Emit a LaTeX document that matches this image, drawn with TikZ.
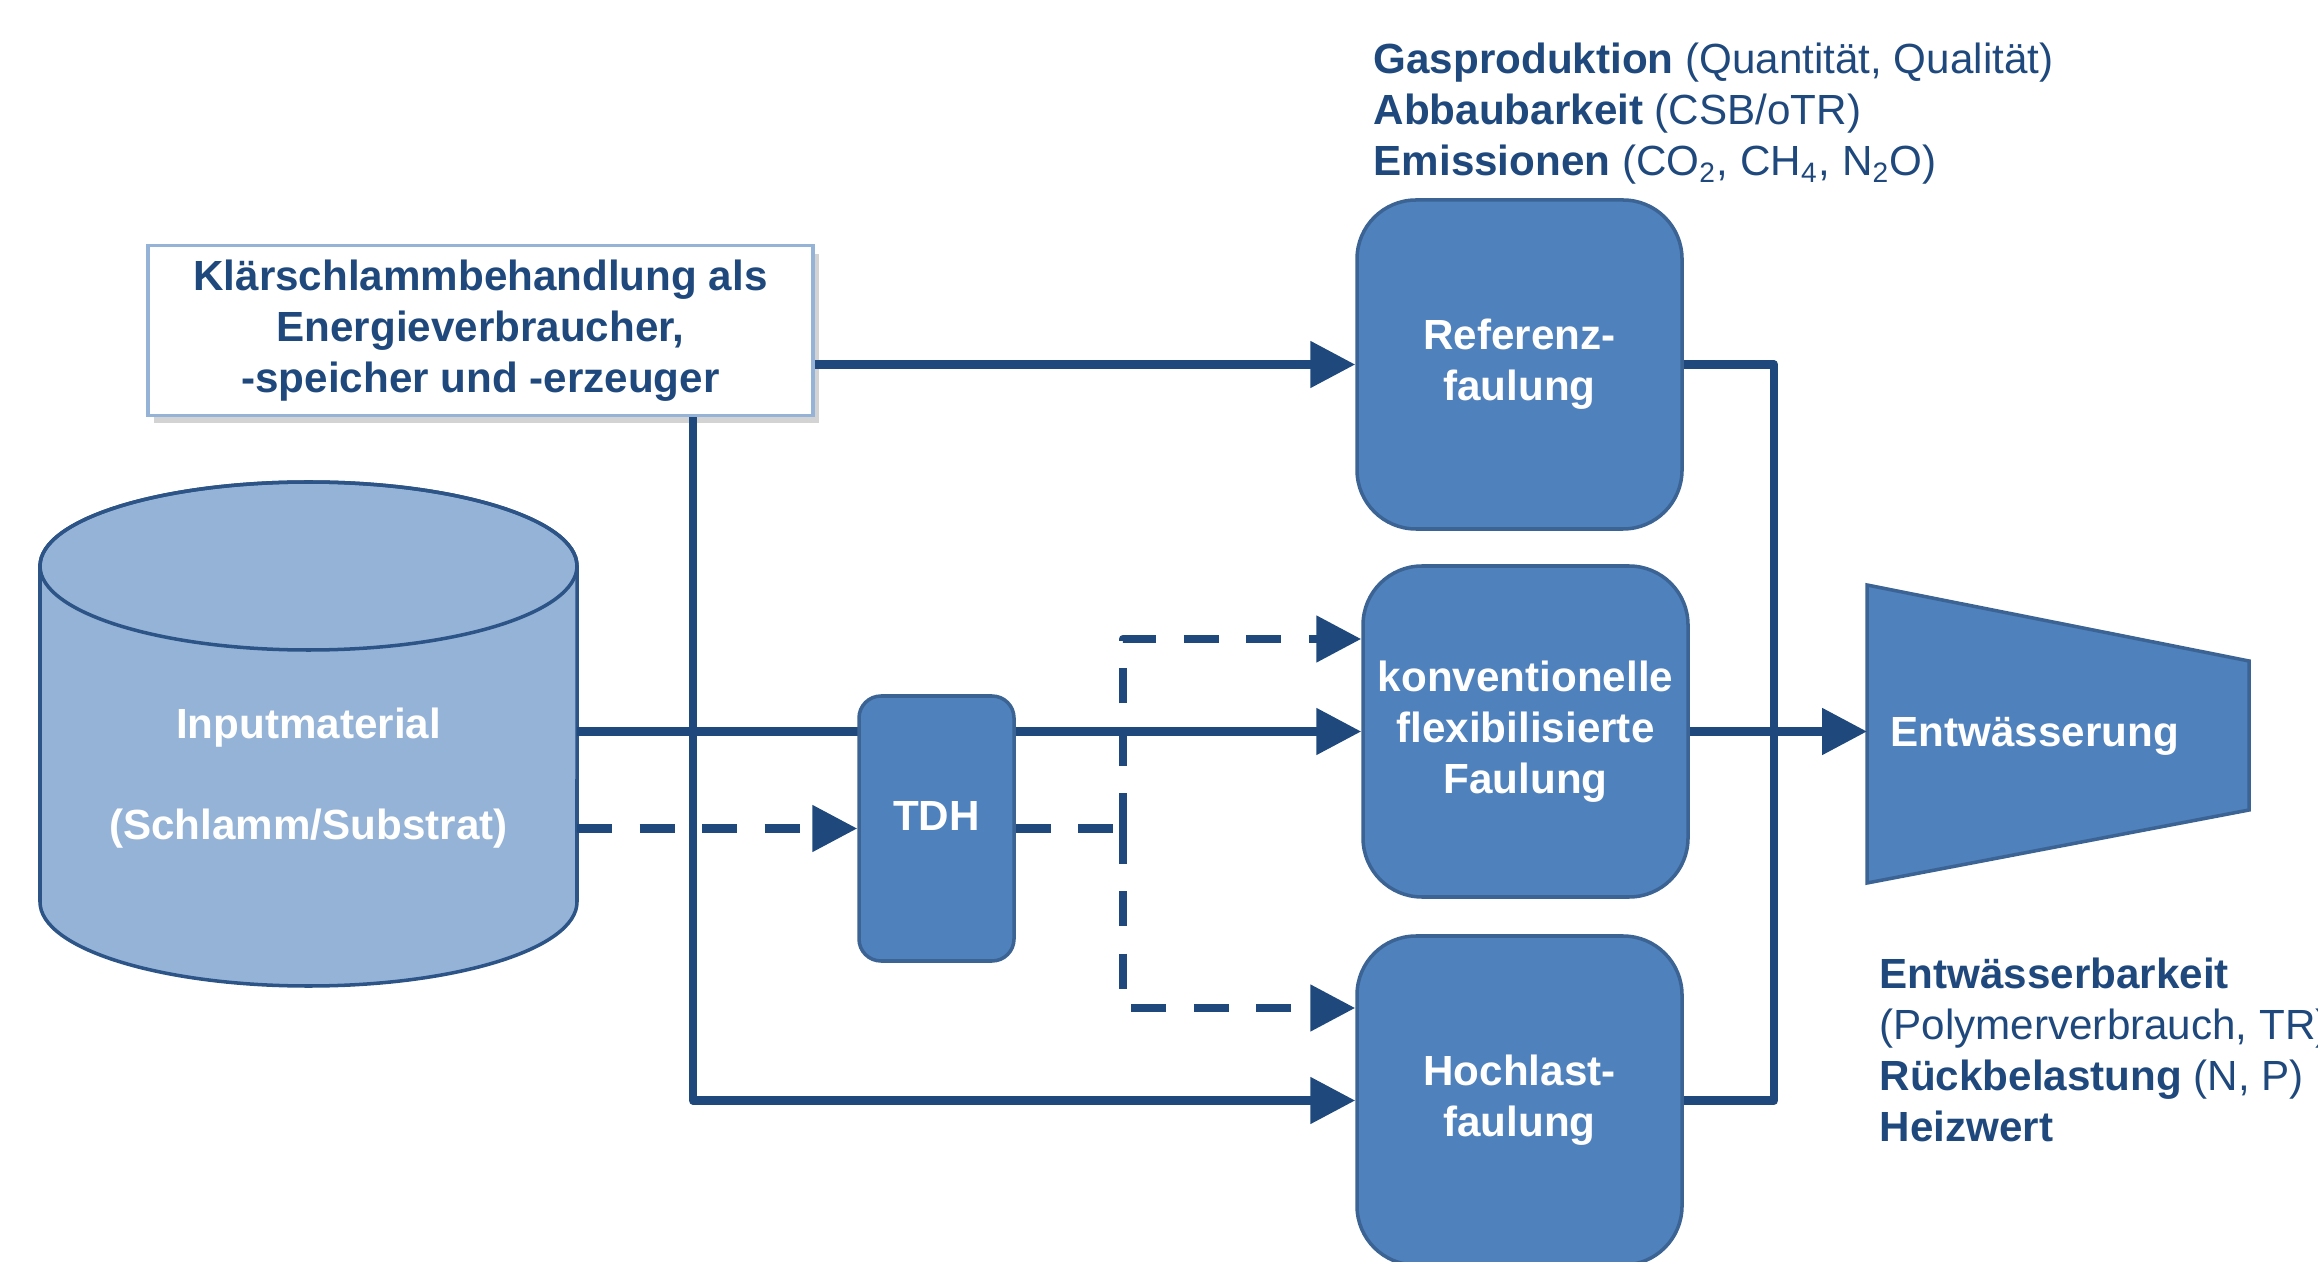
\documentclass[12pt,tikz,border=0pt]{standalone}
\usepackage{fontspec}
\setmainfont{Liberation Sans}
\usetikzlibrary{arrows.meta,shadows}
\definecolor{boxblau}{HTML}{4F81BD}
\definecolor{randblau}{HTML}{3B6494}
\definecolor{linienblau}{HTML}{1F497D}
\definecolor{hellblau}{HTML}{95B3D7}
\definecolor{zylrand}{HTML}{2C5487}
\tikzstyle{faul} = [rectangle, rounded corners=0.59cm, draw=randblau, fill=boxblau, line width=1pt, text=white, font=\bfseries, align=center, minimum width=3.25cm, minimum height=3.29cm]
\tikzstyle{fluss} = [draw=linienblau, line width=2.4pt, line join=round]
\tikzstyle{pfeil} = [fluss, -{Triangle[length=12.8pt,width=12.8pt]}]
\tikzstyle{strich} = [dash pattern=on 10pt off 7.8pt]
\tikzstyle{info} = [anchor=west, align=left, text=linienblau, inner sep=0pt]

\begin{document}
\begin{tikzpicture}
    \useasboundingbox (0,0) rectangle (23.18,12.61);
    % Knoten
    \node[draw=hellblau, fill=white, line width=1pt,
        drop shadow={opacity=0.35, shadow xshift=0.6mm, shadow yshift=-0.8mm},
        text=linienblau, font=\bfseries, align=center,
        minimum width=6.65cm, minimum height=1.67cm] (titel) at (4.805,9.305)
        {Klärschlammbehandlung als\\Energieverbraucher,\\-speicher und -erzeuger};

    % Zylinder
    \draw[fill=hellblau, draw=zylrand, line width=1pt] (0.40,6.95) -- (0.40,3.59)
        arc[start angle=180, end angle=360, x radius=2.685, y radius=0.84]
        -- (5.77,6.95)
        arc[start angle=0, end angle=180, x radius=2.685, y radius=0.84] -- cycle;
    \draw[draw=zylrand, line width=1pt] (3.085,6.95) ellipse [x radius=2.685, y radius=0.84];
    \coordinate (zylost) at (5.77,5.265);
    \node[text=white, font=\bfseries, align=center] (input) at (3.085,4.83)
        {Inputmaterial\\[14.4pt](Schlamm/Substrat)};

    \node[faul] (ref) at (15.195,8.965) {Referenz-\\faulung};
    \node[faul, minimum height=3.31cm] (konv) at (15.255,5.295) {konventionelle\\flexibilisierte\\Faulung};
    \node[faul] (hoch) at (15.195,1.605) {Hochlast-\\faulung};

    % Entwaesserung
    \coordinate (e1) at (18.67,6.76);
    \coordinate (e2) at (22.49,6.00);
    \coordinate (e3) at (22.49,4.51);
    \coordinate (e4) at (18.67,3.78);
    \draw[fill=boxblau, draw=randblau, line width=1pt] (e1) -- (e2) -- (e3) -- (e4) -- cycle;
    \node[anchor=west, text=white, font=\bfseries] (entw) at (18.76,5.25) {Entwässerung};
    \coordinate (entwlinks) at (18.67,5.295);

    % Verbindungen
    \coordinate (teil) at (6.93,1.58);
    \coordinate (sammel) at (17.74,5.295);
    \coordinate (gabel) at (11.23,4.325);
    \draw[pfeil] (ref.west -| titel.east) -- (ref.west);
    \draw[pfeil] (titel.south -| teil) |- (hoch.west);
    \draw[pfeil] (konv.west -| zylost) -- (konv.west);
    \draw[fluss] (ref.east) -| (sammel) |- (hoch.east);
    \draw[pfeil] (konv.east) -- (entwlinks);

    \node[rectangle, rounded corners=0.22cm, draw=randblau, fill=boxblau, line width=1pt,
        text=white, font=\bfseries, text height=8.6pt, text depth=7.6pt,
        minimum width=1.55cm, minimum height=2.65cm] (tdh) at (9.365,4.325) {TDH};
    \draw[pfeil, strich] (tdh.west -| zylost) -- (tdh.west);
    \draw[fluss, strich] (tdh.east) -- (gabel);
    \draw[pfeil, strich] (gabel) |- ([yshift=0.925cm]konv.west);
    \draw[pfeil, strich] (gabel) |- ([yshift=0.925cm]hoch.west);

    % Kriterien
    \node[info] (gas) at (13.73,11.47)
        {\textbf{Gasproduktion} (Quantität, Qualität)\\
         \textbf{Abbaubarkeit} (CSB/oTR)\\
         \textbf{Emissionen} (CO\textsubscript{2}, CH\textsubscript{4}, N\textsubscript{2}O)};
    \node[info] (entwinfo) at (18.79,2.115)
        {\textbf{Entwässerbarkeit}\\
         (Polymerverbrauch, TR)\\
         \textbf{Rückbelastung} (N, P)\\
         \textbf{Heizwert}};
\end{tikzpicture}
\end{document}
